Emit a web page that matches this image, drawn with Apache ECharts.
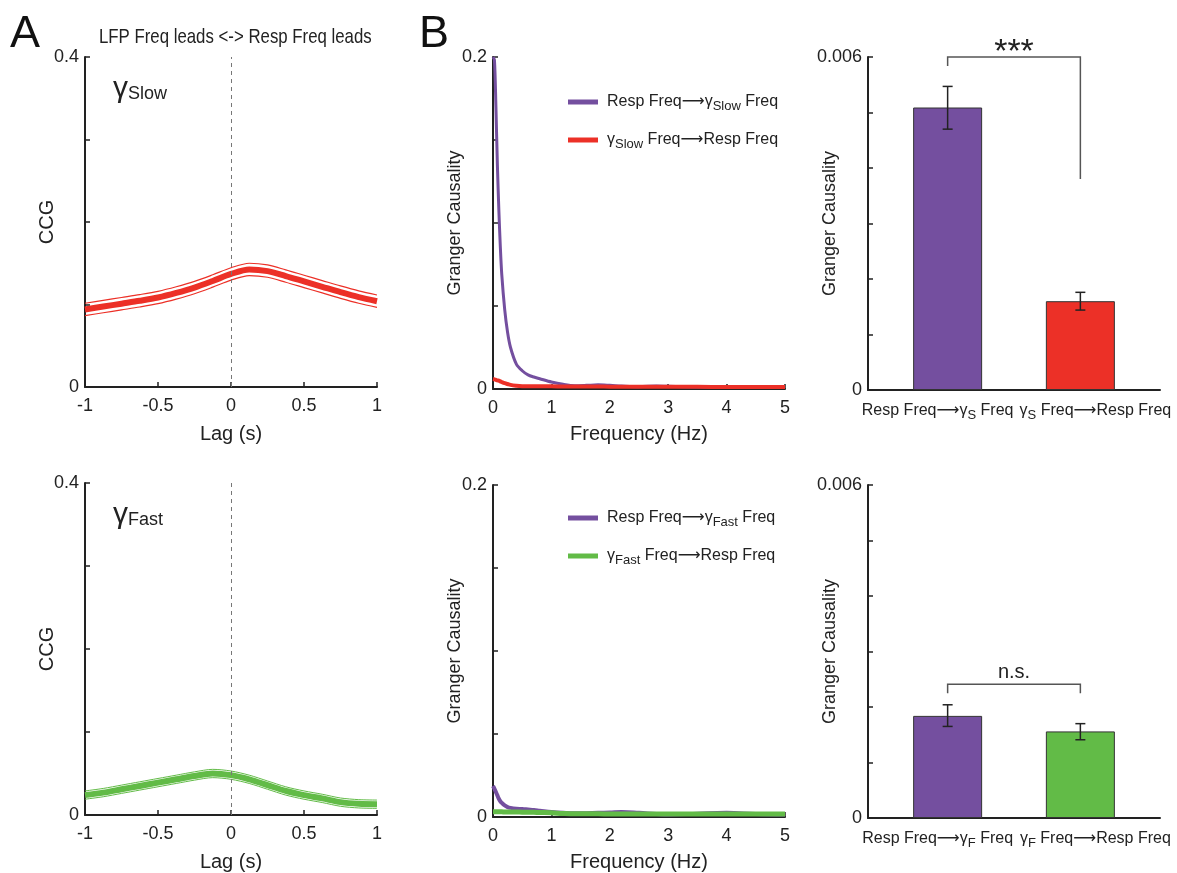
<!DOCTYPE html>
<html><head><meta charset="utf-8">
<script src="https://cdn.jsdelivr.net/npm/echarts@6/dist/echarts.min.js"></script>
<style>html,body{margin:0;padding:0;background:#fff}#c{width:1177px;height:873px}</style>
</head><body><div id="c"></div>
<script>
// ---------- data ----------
const lag = [-1,-0.875,-0.75,-0.625,-0.5,-0.375,-0.25,-0.125,0,0.125,0.25,0.375,0.5,0.625,0.75,0.875,1];
const ccgSlowMean  = [0.094,0.0975,0.101,0.1045,0.1085,0.114,0.1205,0.1285,0.137,0.1425,0.1405,0.1345,0.128,0.1215,0.115,0.109,0.104];
const ccgSlowUpper = [0.1015,0.105,0.1085,0.112,0.116,0.1215,0.128,0.136,0.1445,0.150,0.148,0.142,0.1355,0.129,0.1225,0.1165,0.1115];
const ccgSlowLower = [0.0865,0.090,0.0935,0.097,0.101,0.1065,0.113,0.121,0.1295,0.135,0.133,0.127,0.1205,0.114,0.1075,0.1015,0.0965];
const ccgFastMean  = [0.024,0.027,0.031,0.035,0.039,0.043,0.047,0.050,0.048,0.043,0.036,0.029,0.024,0.020,0.0155,0.0135,0.013];
const ccgFastUpper = [0.029,0.032,0.036,0.040,0.044,0.048,0.052,0.055,0.053,0.048,0.041,0.034,0.029,0.025,0.0205,0.0185,0.018];
const ccgFastLower = [0.019,0.022,0.026,0.030,0.034,0.038,0.042,0.045,0.043,0.038,0.031,0.024,0.019,0.015,0.0105,0.0085,0.008];

const freq = [0,0.025,0.05,0.075,0.1,0.125,0.15,0.2,0.25,0.3,0.4,0.5,0.6,0.7,0.8,1.0,1.2,1.4,1.6,1.8,2.0,2.2,2.5,2.8,3.0,3.5,4.0,4.5,5.0];
const gcRespToSlow = [0.2,0.198,0.17,0.135,0.108,0.086,0.069,0.048,0.034,0.025,0.015,0.011,0.0085,0.0072,0.0062,0.0042,0.0028,0.002,0.0022,0.0025,0.0022,0.0018,0.0014,0.0018,0.0016,0.0012,0.0011,0.001,0.0009];
const gcSlowToResp = [0.006,0.0058,0.0055,0.0052,0.005,0.0046,0.0042,0.0035,0.003,0.0025,0.002,0.0017,0.0016,0.0016,0.0016,0.0016,0.0015,0.0015,0.0015,0.0015,0.0014,0.0014,0.0014,0.0014,0.0013,0.0013,0.0012,0.0012,0.0012];
const gcRespToFast = [0.0187,0.017,0.015,0.013,0.011,0.0095,0.0085,0.007,0.006,0.0055,0.005,0.0048,0.0045,0.0042,0.0038,0.003,0.0025,0.0022,0.0023,0.0025,0.0027,0.003,0.0025,0.0018,0.0015,0.002,0.0025,0.0018,0.0015];
const gcFastToResp = [0.0032,0.0032,0.0032,0.0031,0.0031,0.0031,0.0031,0.003,0.003,0.003,0.003,0.0029,0.0029,0.0028,0.0027,0.0025,0.0021,0.0019,0.0019,0.0019,0.0018,0.0018,0.0018,0.0018,0.0018,0.0018,0.0018,0.0018,0.0018];

const barPos = [1, 2];
const barSlowMean = [0.00509, 0.0016];
const barSlowLow  = [0.0047, 0.00144];
const barSlowHigh = [0.00547, 0.00176];
const barFastMean = [0.00184, 0.00156];
const barFastLow  = [0.00165, 0.00141];
const barFastHigh = [0.00204, 0.0017];
const sigSlow = [1, 2, 0.006, 0.00584, 0.0038];
const sigFast = [1, 2, 0.00241, 0.00225, 0.00225];
const sigSlowText = '***';
const sigFastText = 'n.s.';

const ARROW = '⟶';
const nameRespToSlow = 'Resp Freq'+ARROW+'γSlow Freq';
const nameSlowToResp = 'γSlow Freq'+ARROW+'Resp Freq';
const nameRespToFast = 'Resp Freq'+ARROW+'γFast Freq';
const nameFastToResp = 'γFast Freq'+ARROW+'Resp Freq';

// ---------- style ----------
const PURPLE = '#744f9f', RED = '#ec3027', GREEN = '#62bb47', INK = '#222';
const FONT = '"Liberation Sans", Arial, "DejaVu Sans", sans-serif';
const NARROW = '"Liberation Sans Narrow", "Arial Narrow", "Liberation Sans", "DejaVu Sans", sans-serif';

const grids = [
  {left:85, top:57, width:292, height:330},
  {left:85, top:483, width:292, height:332},
  {left:493, top:57, width:292, height:332},
  {left:493, top:485, width:292, height:333},
  {left:868, top:57, width:292, height:333},
  {left:868, top:485, width:292, height:333}
];

function axBase(){
  return {
    axisLine:{show:true, onZero:false, lineStyle:{color:INK, width:2}},
    axisTick:{show:true, inside:true, length:5, lineStyle:{color:INK, width:1.5}},
    splitLine:{show:false},
    axisLabel:{color:INK, fontFamily:FONT, fontSize:18},
    nameMoveOverlap:false,
    nameTextStyle:{color:INK, fontFamily:FONT, fontSize:20}
  };
}
function near(a,b){return Math.abs(a-b)<1e-9;}

function xLag(gi){
  const a = axBase();
  return Object.assign(a, {type:'value', gridIndex:gi, min:-1, max:1, interval:0.5,
    name:'Lag (s)', nameLocation:'middle', nameGap:37,
    axisLabel:Object.assign(a.axisLabel,{margin:10})});
}
function xFreq(gi){
  const a = axBase();
  return Object.assign(a, {type:'value', gridIndex:gi, min:0, max:5, interval:1,
    name:'Frequency (Hz)', nameLocation:'middle', nameGap:35,
    axisLabel:Object.assign(a.axisLabel,{margin:10})});
}
function xBar(gi, sub){
  const a = axBase();
  a.axisTick = {show:false};
  const fs = 16;
  a.axisLabel = {color:INK, fontFamily:NARROW, fontSize:fs, margin:11,
    formatter: v => near(v,1) ? '{l|Resp Freq'+ARROW+'γ}{s|'+sub+'}{le| Freq}' : (near(v,2) ? '{rs|γ}{s|'+sub+'}{r| Freq'+ARROW+'Resp Freq}' : ''),
    rich:{
      l:{fontFamily:NARROW, fontSize:fs, color:INK, lineHeight:20},
      le:{fontFamily:NARROW, fontSize:fs, color:INK, lineHeight:20, padding:[0,20,0,0]},
      rs:{fontFamily:NARROW, fontSize:fs, color:INK, lineHeight:20, padding:[0,0,0,30]},
      r:{fontFamily:NARROW, fontSize:fs, color:INK, lineHeight:20},
      s:{fontFamily:NARROW, fontSize:13, color:INK, lineHeight:20, padding:[8,0,0,0]}
    }};
  return Object.assign(a, {type:'value', gridIndex:gi, min:0.4, max:2.6, interval:0.2});
}
function yAx(gi, max, interval, name, gap){
  const a = axBase();
  return Object.assign(a, {type:'value', gridIndex:gi, min:0, max:max, interval:interval,
    name:name, nameLocation:'middle', nameGap:gap,
    nameTextStyle:{color:INK, fontFamily:FONT, fontSize: name==='CCG'?20:18},
    axisLabel:Object.assign(a.axisLabel,{margin:6,
      formatter: v => (near(v,0) ? '0' : (near(v,max) ? String(max) : ''))})});
}

function pairs(xs, ys){ return xs.map((x,i)=>[x, ys[i]]); }

function lineSeries(name, xi, xs, ys, color, width, extra){
  return Object.assign({type:'line', name:name, xAxisIndex:xi, yAxisIndex:xi, data:pairs(xs,ys),
    showSymbol:false, symbol:'none', smooth:0.4, clip:true,
    lineStyle:{color:color, width:width, cap:'butt', join:'round'}, itemStyle:{color:color}, animation:false}, extra||{});
}

const zeroMark = {silent:true, symbol:['none','none'], label:{show:false},
  lineStyle:{type:[4,4], color:'#777', width:1}, data:[{xAxis:0}], animation:false};

function errSeries(xi, low, high){
  return {type:'custom', xAxisIndex:xi, yAxisIndex:xi, z:10, animation:false,
    data: barPos.map((x,i)=>[x, low[i], high[i]]),
    renderItem:(params, api)=>{
      const x = api.value(0);
      const lo = api.coord([x, api.value(1)]), hi = api.coord([x, api.value(2)]);
      const w = 5, st = {stroke:INK, lineWidth:1.5};
      return {type:'group', children:[
        {type:'line', shape:{x1:lo[0],y1:lo[1],x2:hi[0],y2:hi[1]}, style:st},
        {type:'line', shape:{x1:lo[0]-w,y1:lo[1],x2:lo[0]+w,y2:lo[1]}, style:st},
        {type:'line', shape:{x1:hi[0]-w,y1:hi[1],x2:hi[0]+w,y2:hi[1]}, style:st}
      ]};
    }};
}
function sigSeries(xi, sig, text, fontSize, dy){
  return {type:'custom', xAxisIndex:xi, yAxisIndex:xi, z:10, animation:false, clip:false,
    data:[sig],
    renderItem:(params, api)=>{
      const x1=api.value(0), x2=api.value(1), t=api.value(2);
      const p1=api.coord([x1, api.value(3)]), p2=api.coord([x1,t]), p3=api.coord([x2,t]), p4=api.coord([x2, api.value(4)]);
      return {type:'group', children:[
        {type:'polyline', shape:{points:[p1,p2,p3,p4]}, style:{stroke:'#555', lineWidth:1.5, fill:null}},
        {type:'text', x:(p2[0]+p3[0])/2, y:p2[1]+dy, style:{text:text, fill:INK, fontSize:fontSize, fontFamily:FONT, align:'center', verticalAlign:'bottom'}}
      ]};
    }};
}
function barSeries(xi, means, colors){
  return {type:'bar', xAxisIndex:xi, yAxisIndex:xi, barWidth:69, animation:false,
    data: barPos.map((x,i)=>({value:[x, means[i]], itemStyle:{color:colors[i]}})),
    itemStyle:{borderColor:'#333', borderWidth:1}};
}

function legendRich(){
  return {
    a0:{fontFamily:NARROW, fontSize:16, color:INK, lineHeight:20, padding:[0,0,0,4]},
    a:{fontFamily:NARROW, fontSize:16, color:INK, lineHeight:20},
    s:{fontFamily:NARROW, fontSize:13, color:INK, lineHeight:20, padding:[9,0,0,0]}
  };
}
function legendFmt(name){
  const m = name.match(/^(.*?γ)(Slow|Fast)(.*)$/);
  return '{a0|'+m[1]+'}{s|'+m[2]+'}{a|'+m[3]+'}';
}

const gammaRich = {g:{fontSize:30, fontFamily:FONT, fill:INK, lineHeight:30}, s:{fontSize:18, fontFamily:FONT, fill:INK, lineHeight:30, padding:[10,0,0,0]}};

const option = {
  backgroundColor:'#fff',
  animation:false,
  grid: grids,
  xAxis:[xLag(0), xLag(1), xFreq(2), xFreq(3), xBar(4,'S'), xBar(5,'F')],
  yAxis:[yAx(0,0.4,0.1,'CCG',28), yAx(1,0.4,0.1,'CCG',28),
         yAx(2,0.2,0.05,'Granger Causality',29), yAx(3,0.2,0.05,'Granger Causality',29),
         yAx(4,0.006,0.001,'Granger Causality',29), yAx(5,0.006,0.001,'Granger Causality',29)],
  legend:[
    {data:[nameRespToSlow, nameSlowToResp], orient:'vertical', left:568, top:91, padding:0, itemWidth:30, itemHeight:5, itemGap:16,
      icon:'rect', formatter:legendFmt, textStyle:{rich:legendRich()}, selectedMode:false},
    {data:[nameRespToFast, nameFastToResp], orient:'vertical', left:568, top:507, padding:0, itemWidth:30, itemHeight:5, itemGap:16,
      icon:'rect', formatter:legendFmt, textStyle:{rich:legendRich()}, selectedMode:false}
  ],
  graphic:[
    {type:'text', left:10, top:12, style:{text:'A', fontSize:45, fontFamily:FONT, fill:'#111'}},
    {type:'text', left:419, top:12, style:{text:'B', fontSize:45, fontFamily:FONT, fill:'#111'}},
    {type:'text', x:99, y:27, scaleX:0.8, style:{text:'LFP Freq leads <-> Resp Freq leads', fontSize:21, fontFamily:FONT, fill:INK}},
    {type:'text', left:113, top:74, style:{text:'{g|γ}{s|Slow}', rich:gammaRich}},
    {type:'text', left:113, top:500, style:{text:'{g|γ}{s|Fast}', rich:gammaRich}}
  ],
  series:[
    lineSeries('slowUpper',0,lag,ccgSlowUpper,RED,1.2,{smooth:0.3}),
    lineSeries('slowLower',0,lag,ccgSlowLower,RED,1.2,{smooth:0.3}),
    lineSeries('slowMean',0,lag,ccgSlowMean,RED,6,{smooth:0.3, markLine:zeroMark}),
    lineSeries('fastUpper',1,lag,ccgFastUpper,GREEN,1,{smooth:0.3}),
    lineSeries('fastLower',1,lag,ccgFastLower,GREEN,1,{smooth:0.3}),
    lineSeries('fastMean',1,lag,ccgFastMean,GREEN,6,{smooth:0.3, markLine:zeroMark}),
    lineSeries(nameRespToSlow,2,freq,gcRespToSlow,PURPLE,3,{smooth:0.3}),
    lineSeries(nameSlowToResp,2,freq,gcSlowToResp,RED,4),
    lineSeries(nameRespToFast,3,freq,gcRespToFast,PURPLE,4),
    lineSeries(nameFastToResp,3,freq,gcFastToResp,GREEN,5),
    barSeries(4, barSlowMean, [PURPLE, RED]),
    errSeries(4, barSlowLow, barSlowHigh),
    sigSeries(4, sigSlow, sigSlowText, 34, 13),
    barSeries(5, barFastMean, [PURPLE, GREEN]),
    errSeries(5, barFastLow, barFastHigh),
    sigSeries(5, sigFast, sigFastText, 20, -2)
  ]
};
const chart = echarts.init(document.getElementById('c'), null, {renderer:'canvas'});
chart.setOption(option);
</script></body></html>
